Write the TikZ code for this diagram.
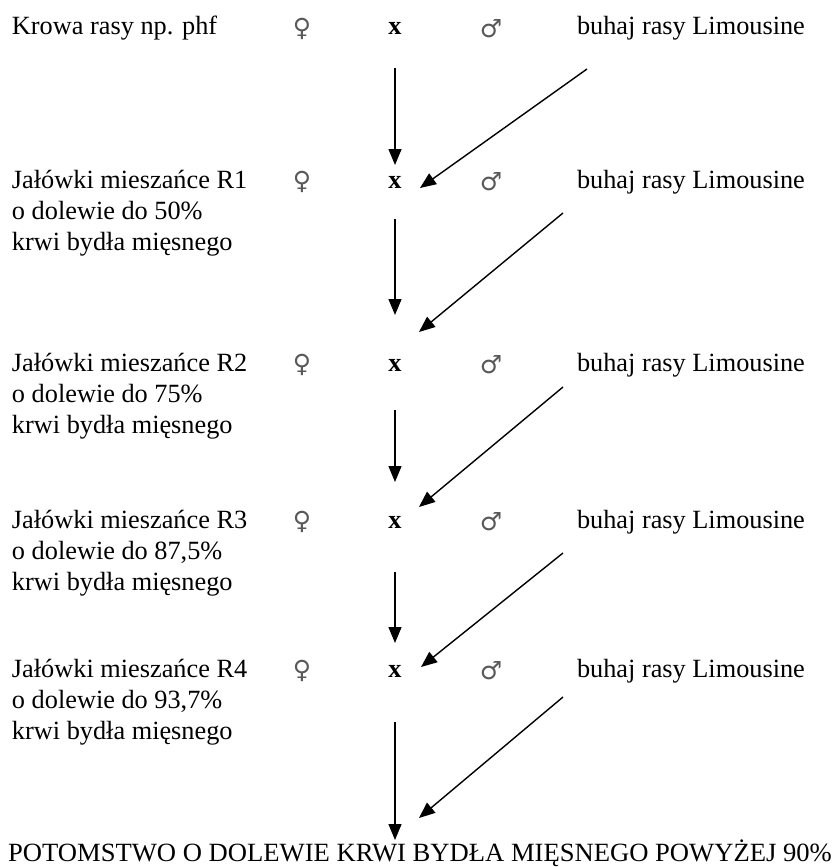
\documentclass[tikz,border=0pt]{standalone}
\usepackage{fontspec}
\setmainfont{Liberation Serif}
\newfontfamily\symfont{DejaVu Sans}
\usetikzlibrary{arrows.meta}
\tikzset{
  txt/.style={inner sep=0pt, outer sep=0pt, anchor=base west, font=\fontsize{26.3}{30.8}\selectfont},
  cross/.style={inner sep=0pt, outer sep=0pt, anchor=base, font=\fontsize{26.3}{30.8}\selectfont\bfseries},
  sex/.style={inner sep=0pt, outer sep=0pt, anchor=center, text=black!65, font=\fontsize{25}{28}\symfont},
  arr/.style={line width=1.4pt, -{Triangle[length=16pt,width=13pt]}}
}
\begin{document}
\begin{tikzpicture}[x=1pt,y=-1pt]
\useasboundingbox (0,0) rectangle (838,867);
% row 0
\node[txt] (r0a) at (12,35) {Krowa rasy np. phf};
\node[sex] (f0) at (302,29) {♀};
\node[cross] (x0) at (395,35) {x};
\node[sex] (m0) at (491,29) {♂};
\node[txt] (b0) at (577,35) {buhaj rasy Limousine};
% row 1
\node[txt] (r1a) at (12,188) {Jałówki mieszańce R1};
\node[txt] (r1b) at (12,219) {o dolewie do 50\%};
\node[txt] (r1c) at (12,250) {krwi bydła mięsnego};
\node[sex] (f1) at (302,182) {♀};
\node[cross] (x1) at (395,188) {x};
\node[sex] (m1) at (491,182) {♂};
\node[txt] (b1) at (577,188) {buhaj rasy Limousine};
% row 2
\node[txt] (r2a) at (12,371) {Jałówki mieszańce R2};
\node[txt] (r2b) at (12,402) {o dolewie do 75\%};
\node[txt] (r2c) at (12,433) {krwi bydła mięsnego};
\node[sex] (f2) at (302,365) {♀};
\node[cross] (x2) at (395,371) {x};
\node[sex] (m2) at (491,365) {♂};
\node[txt] (b2) at (577,371) {buhaj rasy Limousine};
% row 3
\node[txt] (r3a) at (12,528) {Jałówki mieszańce R3};
\node[txt] (r3b) at (12,559) {o dolewie do 87,5\%};
\node[txt] (r3c) at (12,590) {krwi bydła mięsnego};
\node[sex] (f3) at (302,522) {♀};
\node[cross] (x3) at (395,528) {x};
\node[sex] (m3) at (491,522) {♂};
\node[txt] (b3) at (577,528) {buhaj rasy Limousine};
% row 4
\node[txt] (r4a) at (12,677) {Jałówki mieszańce R4};
\node[txt] (r4b) at (12,708) {o dolewie do 93,7\%};
\node[txt] (r4c) at (12,739) {krwi bydła mięsnego};
\node[sex] (f4) at (302,671) {♀};
\node[cross] (x4) at (395,677) {x};
\node[sex] (m4) at (491,671) {♂};
\node[txt] (b4) at (577,677) {buhaj rasy Limousine};
% bottom
\node[inner sep=0pt, outer sep=0pt, anchor=base, font=\fontsize{26.3}{30.8}\selectfont] (pot) at (420,861) {\scalebox{1.012}[1]{POTOMSTWO O DOLEWIE KRWI BYDŁA MIĘSNEGO POWYŻEJ 90\%}};
% arrow end points
\coordinate (v1s) at (395,68);  \coordinate (v1e) at (395,165);
\coordinate (d1s) at (587,69);  \coordinate (d1e) at (420,188);
\coordinate (v2s) at (395,219); \coordinate (v2e) at (395,315);
\coordinate (d2s) at (563,213); \coordinate (d2e) at (419,332);
\coordinate (v3s) at (395,410); \coordinate (v3e) at (395,482);
\coordinate (d3s) at (563,387); \coordinate (d3e) at (419,507);
\coordinate (v4s) at (395,572); \coordinate (v4e) at (395,643);
\coordinate (d4s) at (563,553); \coordinate (d4e) at (421,667);
\coordinate (v5s) at (395,722); \coordinate (v5e) at (395,840);
\coordinate (d5s) at (563,697); \coordinate (d5e) at (419,818);
\foreach \i in {1,...,5} {
  \draw[arr] (v\i s) -- (v\i e);
  \draw[arr] (d\i s) -- (d\i e);
}
\end{tikzpicture}
\end{document}
